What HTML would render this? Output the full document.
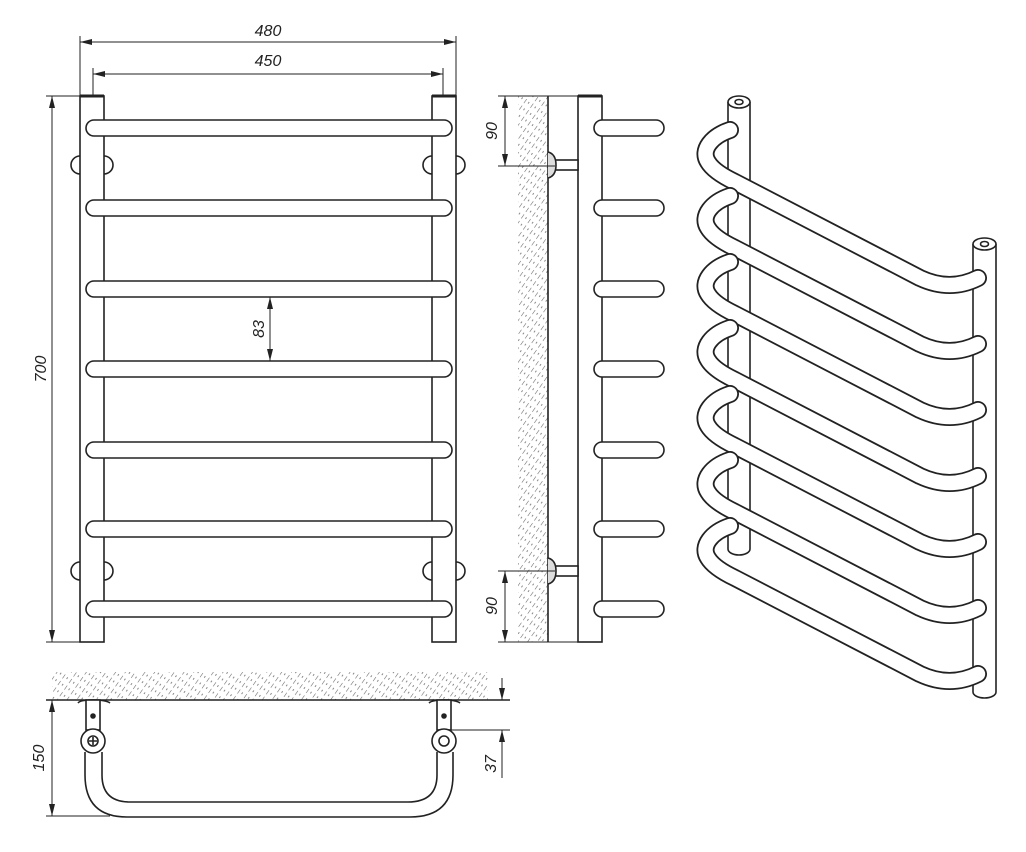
<!DOCTYPE html>
<html><head><meta charset="utf-8"><style>
html,body{margin:0;padding:0;background:#fff;}
svg{display:block;}
text{font-family:"Liberation Sans",sans-serif;font-style:italic;font-size:16px;fill:#222;}
</style></head><body>
<svg width="1026" height="852" viewBox="0 0 1026 852" xmlns="http://www.w3.org/2000/svg">
<defs>
<pattern id="h" width="8" height="8" patternUnits="userSpaceOnUse" patternTransform="rotate(-55)">
<line x1="0" y1="0" x2="5" y2="0" stroke="#666" stroke-width="1.1"/>
<line x1="2" y1="4" x2="4" y2="4" stroke="#888" stroke-width="1"/>
</pattern>
<marker id="a" markerWidth="12" markerHeight="6" refX="12" refY="3" orient="auto" markerUnits="userSpaceOnUse"><path d="M0,0 L12,3 L0,6 Z" fill="#222"/></marker>
<marker id="b" markerWidth="12" markerHeight="6" refX="0" refY="3" orient="auto" markerUnits="userSpaceOnUse"><path d="M12,0 L0,3 L12,6 Z" fill="#222"/></marker>
</defs>
<g stroke="#222" fill="none" stroke-width="1.6">
<!-- FRONT VIEW -->
<path d="M80,156 A9,9 0 0 0 80,174 M104,156 A9,9 0 0 1 104,174 M432,156 A9,9 0 0 0 432,174 M456,156 A9,9 0 0 1 456,174"/>
<path d="M80,562 A9,9 0 0 0 80,580 M104,562 A9,9 0 0 1 104,580 M432,562 A9,9 0 0 0 432,580 M456,562 A9,9 0 0 1 456,580"/>
<rect x="80" y="96" width="24" height="546" fill="#fff"/>
<rect x="432" y="96" width="24" height="546" fill="#fff"/>
<line x1="80" y1="96" x2="104" y2="96" stroke-width="3"/>
<line x1="432" y1="96" x2="456" y2="96" stroke-width="3"/>
<g fill="#fff">
<rect x="86" y="120" width="366" height="16" rx="8"/>
<rect x="86" y="200" width="366" height="16" rx="8"/>
<rect x="86" y="281" width="366" height="16" rx="8"/>
<rect x="86" y="361" width="366" height="16" rx="8"/>
<rect x="86" y="442" width="366" height="16" rx="8"/>
<rect x="86" y="521" width="366" height="16" rx="8"/>
<rect x="86" y="601" width="366" height="16" rx="8"/>
</g>
<g stroke-width="1">
<line x1="80" y1="36" x2="80" y2="96"/><line x1="456" y1="36" x2="456" y2="96"/>
<line x1="80" y1="42" x2="456" y2="42" marker-start="url(#b)" marker-end="url(#a)"/>
<line x1="93" y1="68" x2="93" y2="96"/><line x1="443" y1="68" x2="443" y2="96"/>
<line x1="93" y1="74" x2="443" y2="74" marker-start="url(#b)" marker-end="url(#a)"/>
<line x1="46" y1="96" x2="80" y2="96"/><line x1="46" y1="642" x2="80" y2="642"/>
<line x1="52" y1="96" x2="52" y2="642" marker-start="url(#b)" marker-end="url(#a)"/>
<line x1="270" y1="297" x2="270" y2="361" marker-start="url(#b)" marker-end="url(#a)"/>
</g>
<!-- SIDE VIEW -->
<rect x="518" y="96" width="30" height="546" fill="url(#h)" stroke="none"/>
<line x1="548" y1="96" x2="548" y2="642"/>
<rect x="578" y="96" width="24" height="546" fill="#fff"/>
<line x1="578" y1="96" x2="602" y2="96" stroke-width="3"/>
<g fill="#fff">
<path d="M602,120 H656 A8,8 0 0 1 656,136 H602 A8,8 0 0 1 602,120Z"/>
<path d="M602,200 H656 A8,8 0 0 1 656,216 H602 A8,8 0 0 1 602,200Z"/>
<path d="M602,281 H656 A8,8 0 0 1 656,297 H602 A8,8 0 0 1 602,281Z"/>
<path d="M602,361 H656 A8,8 0 0 1 656,377 H602 A8,8 0 0 1 602,361Z"/>
<path d="M602,442 H656 A8,8 0 0 1 656,458 H602 A8,8 0 0 1 602,442Z"/>
<path d="M602,521 H656 A8,8 0 0 1 656,537 H602 A8,8 0 0 1 602,521Z"/>
<path d="M602,601 H656 A8,8 0 0 1 656,617 H602 A8,8 0 0 1 602,601Z"/>
</g>
<rect x="555" y="160" width="23" height="10" fill="#fff"/>
<path d="M548,152 Q556,154 556,165 Q556,176 548,178" fill="#ddd"/>
<rect x="555" y="566" width="23" height="10" fill="#fff"/>
<path d="M548,558 Q556,560 556,571 Q556,582 548,584" fill="#ddd"/>
<g stroke-width="1">
<line x1="498" y1="96" x2="578" y2="96"/><line x1="498" y1="166" x2="555" y2="166"/>
<line x1="505" y1="96" x2="505" y2="166" marker-start="url(#b)" marker-end="url(#a)"/>
<line x1="498" y1="571" x2="555" y2="571"/><line x1="498" y1="642" x2="578" y2="642"/>
<line x1="505" y1="571" x2="505" y2="642" marker-start="url(#b)" marker-end="url(#a)"/>
</g>
<!-- BOTTOM VIEW -->
<rect x="52" y="672" width="436" height="28" fill="url(#h)" stroke="none"/>
<line x1="46" y1="700" x2="510" y2="700"/>
<path d="M85,752 V775 Q85,817 127,817 H410 Q453,817 453,775 V752"/>
<path d="M102,752 V775 Q102,802 130,802 H408 Q437,802 437,775 V752"/>
<path d="M78,703 Q80,700 93,700 Q106,700 110,703 M429,703 Q432,700 444,700 Q456,700 460,703"/>
<rect x="86" y="700" width="14" height="30" fill="#fff"/>
<rect x="437" y="700" width="14" height="30" fill="#fff"/>
<circle cx="93" cy="716" r="2" fill="#222"/><circle cx="444" cy="716" r="2" fill="#222"/>
<circle cx="93" cy="741" r="12" fill="#fff"/><circle cx="93" cy="741" r="5"/>
<path d="M89,741 H97 M93,737 V745"/>
<circle cx="444" cy="741" r="12" fill="#fff"/><circle cx="444" cy="741" r="5"/>
<g stroke-width="1">
<line x1="46" y1="816" x2="110" y2="816"/>
<line x1="52" y1="700" x2="52" y2="816" marker-start="url(#b)" marker-end="url(#a)"/>
<line x1="450" y1="730" x2="510" y2="730"/>
<line x1="502" y1="678" x2="502" y2="700" marker-end="url(#a)"/>
<line x1="502" y1="778" x2="502" y2="730" marker-end="url(#a)"/>
</g>
<!-- ISOMETRIC -->
<path d="M728,102 V549 A11,6 0 0 0 750,549 V102" fill="#fff"/>
<ellipse cx="739" cy="102" rx="11" ry="6" fill="#fff"/>
<ellipse cx="739" cy="102" rx="4" ry="2.5"/>
<path d="M973,244 V692 A11.5,6 0 0 0 996,692 V244" fill="#fff"/>
<ellipse cx="984.5" cy="244" rx="11.5" ry="6" fill="#fff"/>
<ellipse cx="984.5" cy="244" rx="4" ry="2.5"/>
</g>
<g fill="none" stroke-linecap="round">
<g id="bar">
<path d="M730,130 C712,136 700,150 708,162 Q714,172 735,182 L920,278 Q950,292 978,278" stroke="#222" stroke-width="18"/>
<path d="M730,130 C712,136 700,150 708,162 Q714,172 735,182 L920,278 Q950,292 978,278" stroke="#fff" stroke-width="14.4"/>
</g>
<use href="#bar" y="66"/>
<use href="#bar" y="132"/>
<use href="#bar" y="198"/>
<use href="#bar" y="264"/>
<use href="#bar" y="330"/>
<use href="#bar" y="396"/>
</g>
<text x="268" y="36" text-anchor="middle">480</text>
<text x="268" y="66" text-anchor="middle">450</text>
<text transform="translate(46,369) rotate(-90)" text-anchor="middle">700</text>
<text transform="translate(264,329) rotate(-90)" text-anchor="middle">83</text>
<text transform="translate(497,131) rotate(-90)" text-anchor="middle">90</text>
<text transform="translate(497,606) rotate(-90)" text-anchor="middle">90</text>
<text transform="translate(44,758) rotate(-90)" text-anchor="middle">150</text>
<text transform="translate(496,764) rotate(-90)" text-anchor="middle">37</text>
</svg>
</body></html>
